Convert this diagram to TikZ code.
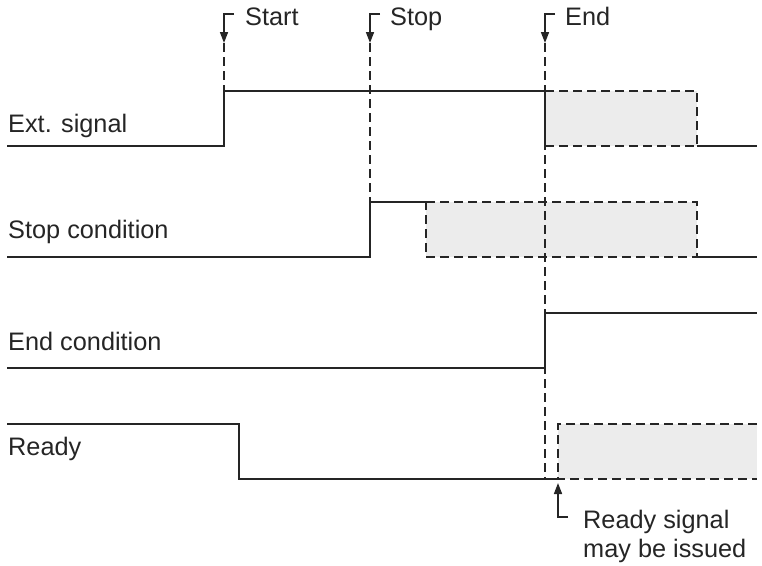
\documentclass[tikz,border=0pt]{standalone}
\usepackage{fontspec}
\setmainfont{Liberation Sans}
\usetikzlibrary{arrows.meta}
\definecolor{ink}{HTML}{252525}
\definecolor{boxgray}{HTML}{ECECEC}
\begin{document}
\begin{tikzpicture}[x=1pt,y=-1pt,
  sig/.style={draw=ink,line width=2pt,line join=miter},
  dsig/.style={draw=ink,line width=2.2pt,dash pattern=on 9pt off 5pt},
  vmark/.style={draw=ink,line width=1.5pt,dash pattern=on 9pt off 5pt},
  callout/.style={draw=ink,line width=1.6pt,-{Triangle[length=11pt,width=8pt]}},
  lbl/.style={inner sep=0pt,anchor=base west,text=ink,font=\fontsize{25.3}{29}\selectfont}]
\useasboundingbox (0,0) rectangle (762,565);
% gray regions
\fill[boxgray] (545,91) rectangle (697,146);
\fill[boxgray] (426,202) rectangle (697,257);
\fill[boxgray] (558,424) rectangle (757,479);
% vertical dashed markers
\coordinate (sA) at (224,43); \coordinate (sB) at (224,91);
\coordinate (pA) at (370,43); \coordinate (pB) at (370,202);
\coordinate (eA) at (545,43); \coordinate (eB) at (545,479);
\draw[vmark] (sA) -- (sB);
\draw[vmark] (pA) -- (pB);
\draw[vmark] (eA) -- (eB);
% callout arrows
\coordinate (sT) at (234,14); \coordinate (pT) at (380,14); \coordinate (eT) at (555,14);
\draw[callout] (sT) -- (224,14) -- (sA);
\draw[callout] (pT) -- (370,14) -- (pA);
\draw[callout] (eT) -- (545,14) -- (eA);
\coordinate (rT) at (568,517); \coordinate (rA) at (558,483);
\draw[callout] (rT) -- (558,517) -- (rA);
% labels
\node[lbl] (start) at (245,25) {Start};
\node[lbl] (stop) at (390,25) {Stop};
\node[lbl] (end) at (565,25) {End};
\node[lbl] (lext) at (8,132) {Ext. signal};
\node[lbl] (lstop) at (8,238) {Stop condition};
\node[lbl] (lend) at (8,350) {End condition};
\node[lbl] (lready) at (8,455) {Ready};
\node[lbl] (r1) at (583,528) {Ready signal};
\node[lbl] (r2) at (583,557) {may be issued};
% Ext. signal
\draw[sig] (7,146) -- (224,146) -- (224,91) -- (545,91);
\draw[dsig] (545,91) -- (697,91) -- (697,146) -- (545,146) -- cycle;
\draw[sig] (697,146) -- (757,146);
% Stop condition
\draw[sig] (7,257) -- (370,257) -- (370,202) -- (426,202);
\draw[dsig] (426,202) -- (697,202) -- (697,257) -- (426,257) -- cycle;
\draw[sig] (697,257) -- (757,257);
% End condition
\draw[sig] (7,368) -- (545,368) -- (545,313) -- (757,313);
% Ready
\draw[sig] (7,424) -- (239,424) -- (239,479) -- (558,479);
\draw[dsig] (757,424) -- (558,424) -- (558,479) -- (757,479);
\end{tikzpicture}
\end{document}
